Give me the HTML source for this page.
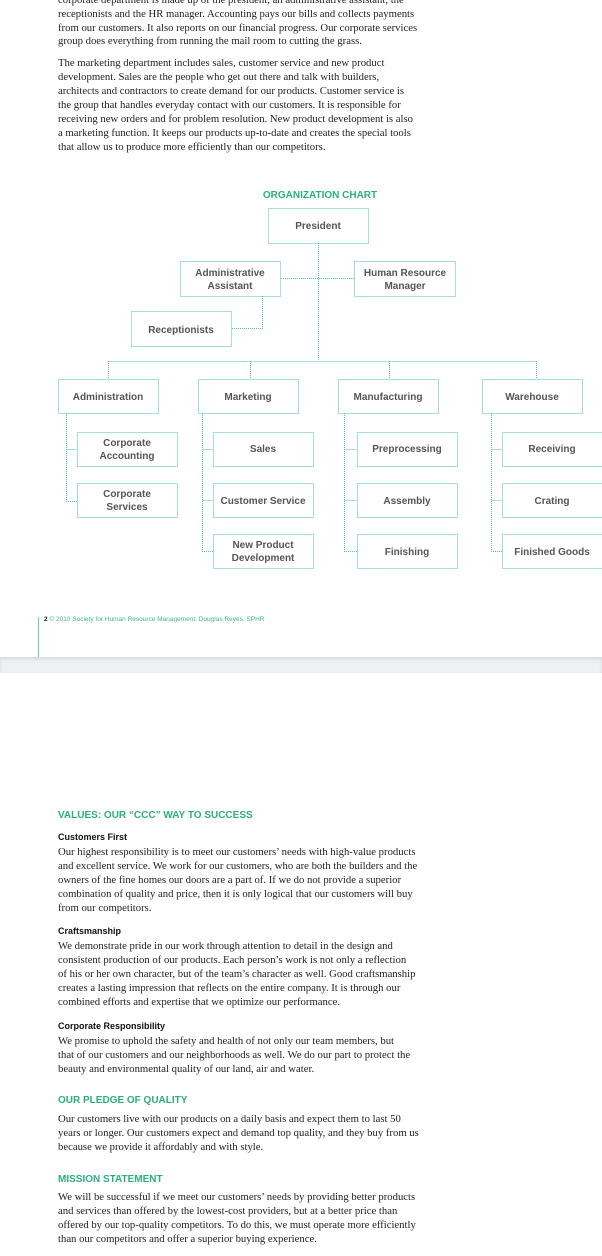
<!DOCTYPE html>
<html><head><meta charset="utf-8"><style>
body{margin:0;width:602px;height:1256px;position:relative;background:#fff;overflow:hidden}
.t{position:absolute;left:58px;font-family:"Liberation Serif",serif;font-size:10.7px;color:#222;white-space:nowrap;line-height:14px}
.h{position:absolute;left:58px;font-family:"Liberation Sans",sans-serif;font-size:10px;font-weight:bold;color:#2bb07a;white-space:nowrap}
.s{position:absolute;left:58px;font-family:"Liberation Sans",sans-serif;font-size:9px;font-weight:bold;color:#111;white-space:nowrap}
svg text{font-family:"Liberation Sans",sans-serif;font-size:10px;font-weight:bold;fill:#555;text-anchor:middle}
</style></head><body>
<div class="t" style="top:-7px">corporate department is made up of the president, an administrative assistant, the</div>
<div class="t" style="top:7px">receptionists and the HR manager. Accounting pays our bills and collects payments</div>
<div class="t" style="top:21px">from our customers. It also reports on our financial progress. Our corporate services</div>
<div class="t" style="top:34px">group does everything from running the mail room to cutting the grass.</div>
<div class="t" style="top:56px">The marketing department includes sales, customer service and new product</div>
<div class="t" style="top:70px">development. Sales are the people who get out there and talk with builders,</div>
<div class="t" style="top:84px">architects and contractors to create demand for our products. Customer service is</div>
<div class="t" style="top:98px">the group that handles everyday contact with our customers. It is responsible for</div>
<div class="t" style="top:112px">receiving new orders and for problem resolution. New product development is also</div>
<div class="t" style="top:126px">a marketing function. It keeps our products up-to-date and creates the special tools</div>
<div class="t" style="top:140px">that allow us to produce more efficiently than our competitors.</div>

<svg width="602" height="660" style="position:absolute;left:0;top:0">
<g fill="none" stroke="#4cc495" stroke-width="1" stroke-dasharray="1,1">
<rect x="268.5" y="208.5" width="100" height="35"/>
<rect x="180.5" y="261.5" width="100" height="35"/>
<rect x="354.5" y="261.5" width="101" height="35"/>
<rect x="131.5" y="311.5" width="100" height="35"/>
<path d="M318.5 243V361M281 278.5H354M262.5 296V328.5H232M108.5 361.5H536.5M108.5 361V379M250.5 361V379M389.5 361V379M536.5 361V379"/>
<rect x="58.5" y="379.5" width="100" height="34"/>
<rect x="198.5" y="379.5" width="100" height="34"/>
<rect x="338.5" y="379.5" width="100" height="34"/>
<rect x="482.5" y="379.5" width="100" height="34"/>
<rect x="77.5" y="432.5" width="100" height="34"/>
<rect x="77.5" y="483.5" width="100" height="34"/>
<rect x="213.5" y="432.5" width="100" height="34"/>
<rect x="213.5" y="483.5" width="100" height="34"/>
<rect x="213.5" y="534.5" width="100" height="34"/>
<rect x="357.5" y="432.5" width="100" height="34"/>
<rect x="357.5" y="483.5" width="100" height="34"/>
<rect x="357.5" y="534.5" width="100" height="34"/>
<rect x="502.5" y="432.5" width="100" height="34"/>
<rect x="502.5" y="483.5" width="100" height="34"/>
<rect x="502.5" y="534.5" width="100" height="34"/>
<path d="M66.5 413V501.5H77M66.5 449.5H77M202.5 413V551.5H213M202.5 449.5H213M202.5 500.5H213M344.5 413V551.5H357M344.5 449.5H357M344.5 500.5H357M491.5 413V551.5H502M491.5 449.5H502M491.5 500.5H502"/>
</g>
<text x="320" y="198" style="fill:#2bb07a;font-size:10px">ORGANIZATION CHART</text>
<text x="318" y="229">President</text>
<text x="230" y="276">Administrative</text><text x="230" y="289">Assistant</text>
<text x="405" y="276">Human Resource</text><text x="405" y="289">Manager</text>
<text x="181" y="333">Receptionists</text>
<text x="108" y="400">Administration</text>
<text x="248" y="400">Marketing</text>
<text x="388" y="400">Manufacturing</text>
<text x="532" y="400">Warehouse</text>
<text x="127" y="446">Corporate</text><text x="127" y="459">Accounting</text>
<text x="127" y="497">Corporate</text><text x="127" y="510">Services</text>
<text x="263" y="452">Sales</text>
<text x="263" y="504">Customer Service</text>
<text x="263" y="548">New Product</text><text x="263" y="561">Development</text>
<text x="407" y="452">Preprocessing</text>
<text x="407" y="504">Assembly</text>
<text x="407" y="555">Finishing</text>
<text x="552" y="452">Receiving</text>
<text x="552" y="504">Crating</text>
<text x="552" y="555">Finished Goods</text>
</svg>
<div style="position:absolute;left:38px;top:617px;width:1px;height:40px;background:#6fd3a8"></div>
<div style="position:absolute;left:44px;top:616px;font-family:'Liberation Sans',sans-serif;font-size:6.5px;color:#3cb98a;white-space:nowrap"><b style="color:#111">2</b> © 2010 Society for Human Resource Management. Douglas Reyes, SPHR</div>
<div style="position:absolute;left:0;top:657px;width:602px;height:16px;background:#eff0f2;box-shadow:inset 0 2px 3px rgba(0,0,0,0.1)"></div>

<div class="h" style="top:810px">VALUES: OUR “CCC” WAY TO SUCCESS</div>
<div class="s" style="top:832px">Customers First</div>
<div class="t" style="top:845px">Our highest responsibility is to meet our customers’ needs with high-value products</div>
<div class="t" style="top:859px">and excellent service. We work for our customers, who are both the builders and the</div>
<div class="t" style="top:873px">owners of the fine homes our doors are a part of. If we do not provide a superior</div>
<div class="t" style="top:887px">combination of quality and price, then it is only logical that our customers will buy</div>
<div class="t" style="top:901px">from our competitors.</div>
<div class="s" style="top:926px">Craftsmanship</div>
<div class="t" style="top:939px">We demonstrate pride in our work through attention to detail in the design and</div>
<div class="t" style="top:953px">consistent production of our products. Each person’s work is not only a reflection</div>
<div class="t" style="top:967px">of his or her own character, but of the team’s character as well. Good craftsmanship</div>
<div class="t" style="top:981px">creates a lasting impression that reflects on the entire company. It is through our</div>
<div class="t" style="top:995px">combined efforts and expertise that we optimize our performance.</div>
<div class="s" style="top:1021px">Corporate Responsibility</div>
<div class="t" style="top:1034px">We promise to uphold the safety and health of not only our team members, but</div>
<div class="t" style="top:1048px">that of our customers and our neighborhoods as well. We do our part to protect the</div>
<div class="t" style="top:1062px">beauty and environmental quality of our land, air and water.</div>
<div class="h" style="top:1095px">OUR PLEDGE OF QUALITY</div>
<div class="t" style="top:1112px">Our customers live with our products on a daily basis and expect them to last 50</div>
<div class="t" style="top:1126px">years or longer. Our customers expect and demand top quality, and they buy from us</div>
<div class="t" style="top:1140px">because we provide it affordably and with style.</div>
<div class="h" style="top:1174px">MISSION STATEMENT</div>
<div class="t" style="top:1190px">We will be successful if we meet our customers’ needs by providing better products</div>
<div class="t" style="top:1204px">and services than offered by the lowest-cost providers, but at a better price than</div>
<div class="t" style="top:1218px">offered by our top-quality competitors. To do this, we must operate more efficiently</div>
<div class="t" style="top:1232px">than our competitors and offer a superior buying experience.</div>
</body></html>
